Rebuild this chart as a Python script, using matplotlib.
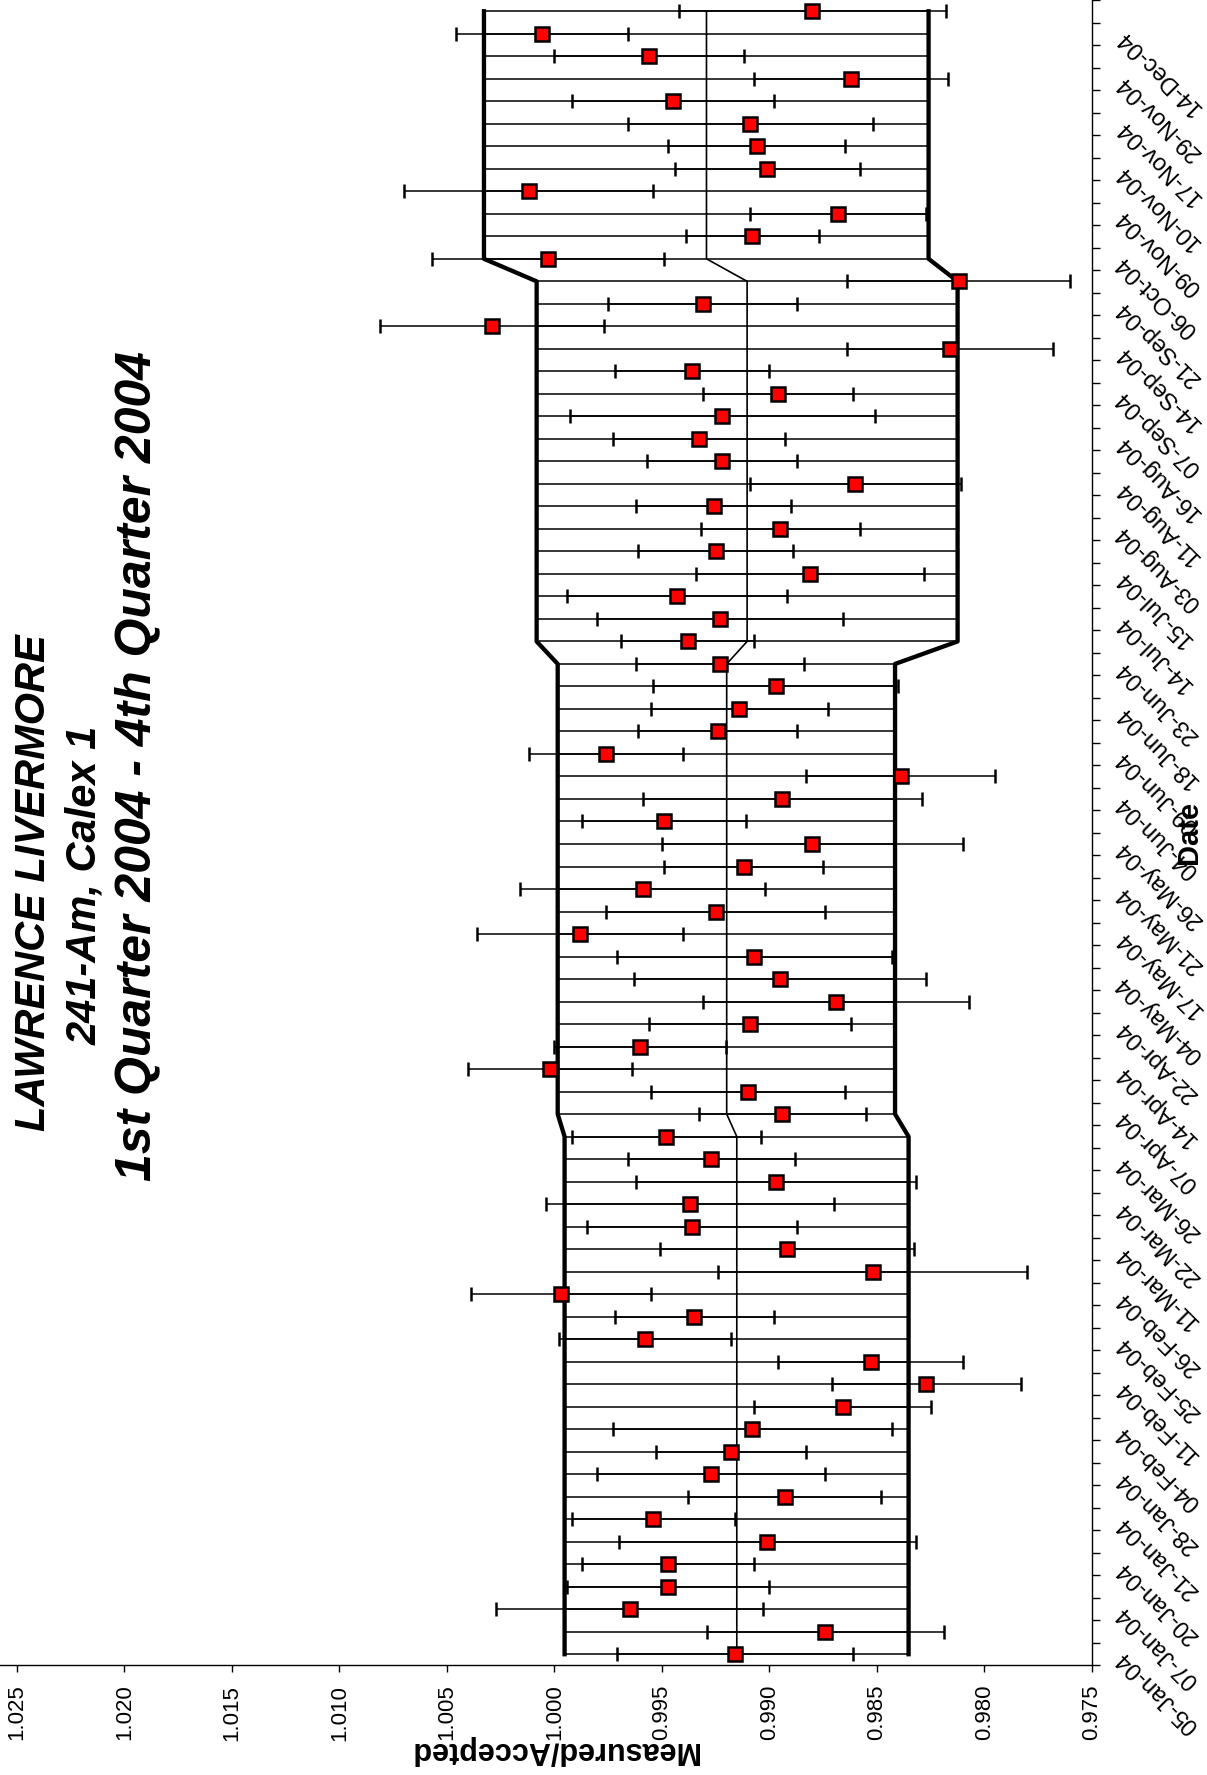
import numpy as np
import matplotlib.pyplot as plt

plt.rcParams['font.family'] = ['Liberation Sans', 'DejaVu Sans']

# measured/accepted ratio for every analysis, first (Jan) to last (Dec)
ratio = [0.9916, 0.9874, 0.9965, 0.9947, 0.9947, 0.9901, 0.9954, 0.9893,
         0.9927, 0.9918, 0.9908, 0.9866, 0.9827, 0.9853, 0.9958, 0.9935,
         0.9997, 0.9852, 0.9892, 0.9936, 0.9937, 0.9897, 0.9927, 0.9948,
         0.9894, 0.9910, 1.0002, 0.9960, 0.9909, 0.9869, 0.9895, 0.9907,
         0.9988, 0.9925, 0.9959, 0.9912, 0.9880, 0.9949, 0.9894, 0.9839,
         0.9976, 0.9924, 0.9914, 0.9897, 0.9923, 0.9938, 0.9923, 0.9943,
         0.9881, 0.9925, 0.9895, 0.9926, 0.9860, 0.9922, 0.9933, 0.9922,
         0.9896, 0.9936, 0.9816, 1.0029, 0.9931, 0.9812, 1.0003, 0.9908,
         0.9868, 1.0012, 0.9901, 0.9906, 0.9909, 0.9945, 0.9862, 0.9956,
         1.0006, 0.9880]

# uncertainty on each ratio
err = [0.0055, 0.0055, 0.0062, 0.0047, 0.0040, 0.0069, 0.0038, 0.0045,
       0.0053, 0.0035, 0.0065, 0.0041, 0.0044, 0.0043, 0.0040, 0.0037,
       0.0042, 0.0072, 0.0059, 0.0049, 0.0067, 0.0065, 0.0039, 0.0044,
       0.0039, 0.0045, 0.0038, 0.0040, 0.0047, 0.0062, 0.0068, 0.0064,
       0.0048, 0.0051, 0.0057, 0.0037, 0.0070, 0.0038, 0.0065, 0.0044,
       0.0036, 0.0037, 0.0041, 0.0057, 0.0039, 0.0031, 0.0057, 0.0051,
       0.0053, 0.0036, 0.0037, 0.0036, 0.0049, 0.0035, 0.0040, 0.0071,
       0.0035, 0.0036, 0.0048, 0.0052, 0.0044, 0.0052, 0.0054, 0.0031,
       0.0041, 0.0058, 0.0043, 0.0041, 0.0057, 0.0047, 0.0045, 0.0044,
       0.0040, 0.0062]

# only every other analysis date is labelled on the axis
date_labels = ['05-Jan-04', '07-Jan-04', '20-Jan-04', '21-Jan-04', '28-Jan-04',
               '04-Feb-04', '11-Feb-04', '25-Feb-04', '26-Feb-04', '11-Mar-04',
               '22-Mar-04', '26-Mar-04', '07-Apr-04', '14-Apr-04', '22-Apr-04',
               '04-May-04', '17-May-04', '21-May-04', '26-May-04', '04-Jun-04',
               '09-Jun-04', '18-Jun-04', '23-Jun-04', '14-Jul-04', '15-Jul-04',
               '03-Aug-04', '11-Aug-04', '16-Aug-04', '07-Sep-04', '14-Sep-04',
               '21-Sep-04', '06-Oct-04', '09-Nov-04', '10-Nov-04', '17-Nov-04',
               '29-Nov-04', '14-Dec-04']

# quarterly mean and control limits
quarter_sizes = [24, 21, 17, 12]
q_mean = [0.99152, 0.99199, 0.99104, 0.99293]
q_upper = [0.99953, 0.99985, 1.00083, 1.00328]
q_lower = [0.98353, 0.98416, 0.98125, 0.98260]

y = np.arange(len(ratio))
mean_line = np.repeat(q_mean, quarter_sizes)
upper_line = np.repeat(q_upper, quarter_sizes)
lower_line = np.repeat(q_lower, quarter_sizes)

fig = plt.figure(figsize=(12.07, 17.75), dpi=100)
ax = fig.add_axes([0.0, 0.0617, 0.9047, 0.9383])

# thin lines joining the control limits on every date
ax.hlines(y, lower_line, upper_line, color='black', lw=1.1, zorder=1)
ax.plot(upper_line, y, color='black', lw=3.1, zorder=2)
ax.plot(lower_line, y, color='black', lw=3.1, zorder=2)
ax.plot(mean_line, y, color='black', lw=1.2, zorder=2)

ax.errorbar(ratio, y, xerr=err, fmt='s', ms=9.5, mfc='red', mec='black', mew=1.8,
            ecolor='black', elinewidth=1.1, capsize=4.8, capthick=2.8, zorder=3)

ax.set_xlim(1.02579, 0.975)
ax.set_ylim(-0.5, len(ratio) - 0.5)

xt = np.arange(0.975, 1.0251, 0.005)
ax.set_xticks(xt)
ax.set_xticklabels([f'{v:.3f}' for v in xt])
ax.tick_params(axis='x', direction='out', length=4.8, width=1.0, pad=9,
               labelsize=16, labelrotation=90)

ax.yaxis.tick_right()
ax.set_yticks(y[::2])
ax.set_yticklabels(date_labels)
ax.set_yticks(np.arange(-0.5, len(ratio), 1.0), minor=True)
ax.tick_params(axis='y', which='major', length=0, pad=20, labelsize=17)
ax.tick_params(axis='y', which='minor', direction='out', length=5.8, width=1.0)
for lbl in ax.get_yticklabels():
    lbl.set_rotation(135)
    lbl.set_rotation_mode('anchor')
    lbl.set_ha('right')
    lbl.set_va('center')

for side in ['left', 'top']:
    ax.spines[side].set_visible(False)
for side in ['bottom', 'right']:
    ax.spines[side].set_linewidth(1.0)

fig.text(554 / 1207, 1 - 1750 / 1775, 'Measured/Accepted', rotation=180,
         ha='center', va='center', fontsize=22, fontweight='bold')
fig.text(1189 / 1207, 1 - 832 / 1775, 'Date', rotation=90,
         ha='center', va='center', fontsize=21, fontweight='bold')

title_lines = ['LAWRENCE LIVERMORE', '241-Am, Calex 1',
               '1st Quarter 2004 - 4th Quarter 2004']
title_x = [34, 85, 137]
title_y = [883, 885, 766]
title_size = [30, 30, 36]
for txt, tx, ty, fs in zip(title_lines, title_x, title_y, title_size):
    fig.text(tx / 1207, 1 - ty / 1775, txt, rotation=90, ha='center', va='center',
             fontsize=fs, fontweight='bold', fontstyle='italic')

fig.savefig('out.png', dpi=100)
